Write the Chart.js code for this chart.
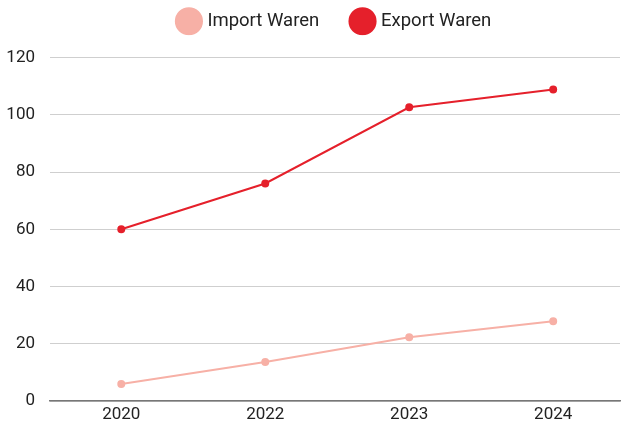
<!DOCTYPE html>
<html>
<head>
<script src="https://cdn.jsdelivr.net/npm/chart.js"></script>
<style>
  html, body { margin: 0; padding: 0; background: #fff; overflow: hidden; }
</style>
</head>
<body>
<canvas id="chart" width="626" height="427"></canvas>
<script>
const years = ['2020', '2022', '2023', '2024'];
const importWaren = [5.9, 13.6, 22.3, 27.9];
const exportWaren = [60.0, 76.0, 102.6, 108.8];
const yTicks = [0, 20, 40, 60, 80, 100, 120];

Chart.defaults.font.family = 'Roboto';
Chart.defaults.font.size = 17;
Chart.defaults.color = '#222';

// legend height / position like the original
const legendTweak = {
  id: 'legendTweak',
  beforeInit(chart) {
    const fit = chart.legend.fit;
    chart.legend.fit = function () {
      fit.bind(chart.legend)();
      this.height -= 5;
    };
  },
  afterLayout(chart) {
    chart.legend.left += 22.5;
    chart.legend.right += 22.5;
    chart.legend.top -= 22;
    chart.legend.bottom -= 22;
  }
};

// years sit on index positions; the plot is cut off a little at the right edge
const toPoints = (vals) => vals.map((v, i) => ({ x: i, y: v }));

new Chart(document.getElementById('chart'), {
  type: 'line',
  data: {
    datasets: [
      {
        label: 'Import Waren',
        data: toPoints(importWaren),
        borderColor: '#f7b0a6',
        backgroundColor: '#f7b0a6',
        borderWidth: 2,
        pointRadius: 3,
        tension: 0
      },
      {
        label: 'Export Waren',
        data: toPoints(exportWaren),
        borderColor: '#e5202b',
        backgroundColor: '#e5202b',
        borderWidth: 2,
        pointRadius: 3,
        tension: 0
      }
    ]
  },
  plugins: [legendTweak],
  options: {
    responsive: false,
    animation: false,
    plugins: {
      legend: {
        labels: {
          usePointStyle: true,
          pointStyle: 'circle',
          boxWidth: 20,
          boxHeight: 20,
          padding: 34,
          font: { size: 18.5 }
        }
      },
      tooltip: { enabled: false }
    },
    scales: {
      x: {
        type: 'linear',
        min: -0.495,
        max: 3.464,
        afterBuildTicks: (axis) => { axis.ticks = years.map((_, i) => ({ value: i })); },
        grid: { display: false, drawTicks: false },
        border: { color: '#777', width: 1.5 },
        ticks: { padding: 4, callback: (v) => years[v] ?? '' },
        afterFit: (axis) => { axis.height = 26; }
      },
      y: {
        min: 0,
        max: 120,
        afterBuildTicks: (axis) => { axis.ticks = yTicks.map(v => ({ value: v })); },
        afterFit: (axis) => { axis.width = 50; },
        grid: { color: '#cfcfcf', drawTicks: false },
        border: { display: false },
        ticks: { padding: 15 }
      }
    }
  }
});
</script>
</body>
</html>
